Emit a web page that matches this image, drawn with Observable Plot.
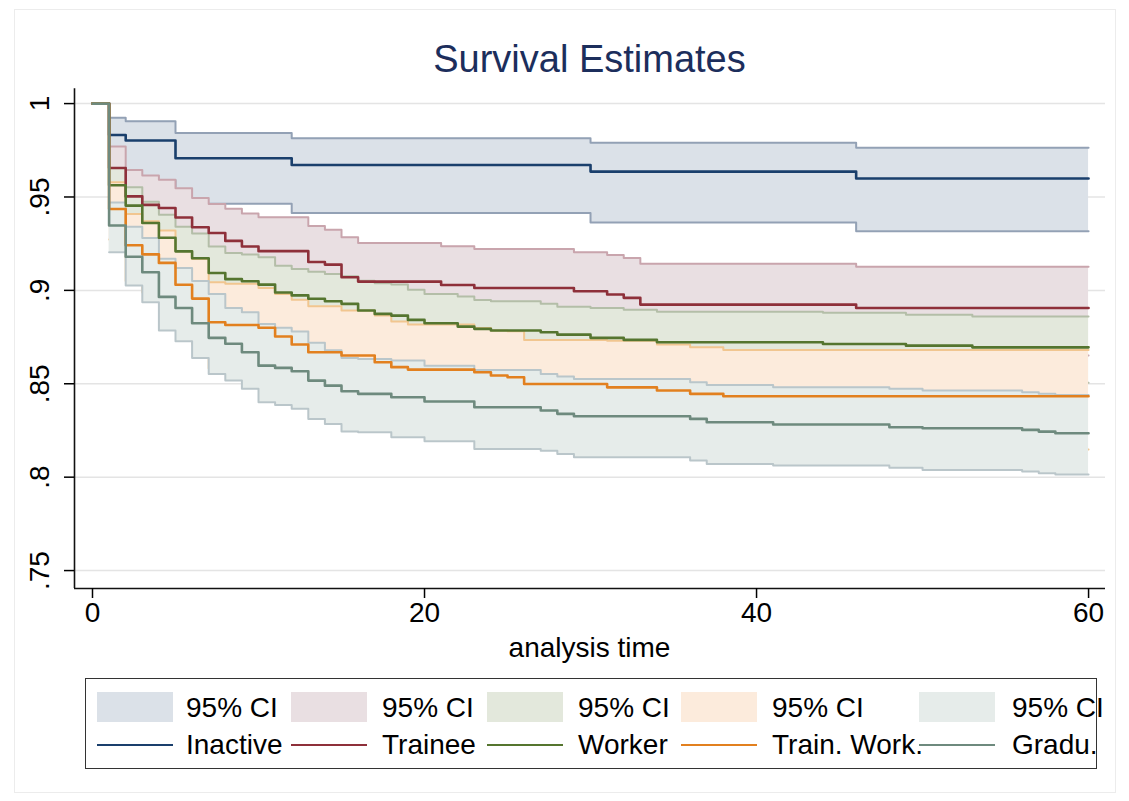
<!DOCTYPE html>
<html>
<head>
<meta charset="utf-8">
<script src="https://cdn.jsdelivr.net/npm/d3@7"></script>
<script src="https://cdn.jsdelivr.net/npm/@observablehq/plot@0.6"></script>
<style>
  body { margin: 0; background: #fff; font-family: "Liberation Sans", Arial, Helvetica, sans-serif; }
  #wrap { position: relative; width: 1129px; height: 801px; overflow: hidden; background: #fff; }
  #outer { position: absolute; left: 14px; top: 9px; width: 1100px; height: 782px; border: 1px solid #ececec; }
  #title { position: absolute; left: 74px; width: 1031px; top: 40px; text-align: center; font-size: 38px; line-height: 1; color: #1c2e5c; }
  #chart { position: absolute; left: 0; top: 80px; }
  #xlabel { position: absolute; left: 74px; width: 1031px; top: 634px; text-align: center; font-size: 28px; line-height: 1; color: #000; }
  #legendbox { position: absolute; left: 85px; top: 678px; width: 1012px; height: 91px; border: 1.5px solid #333; box-sizing: border-box; }
  .sw { position: absolute; height: 30px; width: 76px; }
  .ln { position: absolute; height: 2px; width: 76px; }
  .lt { position: absolute; font-size: 28px; line-height: 1; white-space: nowrap; color: #000; }
</style>
</head>
<body>
<div id="wrap">
  <div id="outer"></div>
  <div id="title">Survival Estimates</div>
  <div id="chart"></div>
  <div id="xlabel">analysis time</div>
</div>
<script>
// ---------------- data ----------------
const groupNames = ["Inactive", "Trainee", "Worker", "Train. Work.", "Gradu."];
const ciLabel = "95% CI";
const titleText = "Survival Estimates";
const xAxisLabel = "analysis time";

const xTicks = [0, 20, 40, 60];
const yTicks = [0.75, 0.8, 0.85, 0.9, 0.95, 1];
const yTickLabels = [".75", ".8", ".85", ".9", ".95", "1"];

// Inactive
const inactiveT  = [0, 1, 2, 5, 12, 30, 46, 60];
const inactiveS  = [1, .9832, .9802, .9707, .9671, .9636, .9599, .9599];
const inactiveLo = [null, .963, .959, .9464, .9414, .9363, .9316, .9316];
const inactiveHi = [null, .9924, .9905, .9842, .9815, .9791, .9764, .9764];

// Trainee
const traineeT  = [0, 1, 2, 3, 4, 5, 6, 7, 8, 9, 10, 13, 14, 15, 16, 21, 23, 29, 31, 32, 33, 46, 60];
const traineeS  = [1, .9655, .9503, .9458, .9441, .9390, .9338, .9307, .9265, .9235, .9210, .9152, .9138, .9070, .9047, .9029, .9013, .8995, .8978, .8960, .8924, .8906, .8906];
const traineeHi = [null, .9770, .9645, .9615, .9592, .9547, .9494, .9463, .9437, .9411, .9392, .9345, .9325, .9285, .9253, .9236, .9222, .9204, .9190, .9174, .9142, .9127, .9127];
const traineeLo = [null, .9523, .9340, .9277, .9267, .9209, .9159, .9128, .9067, .9033, .9001, .8930, .8923, .8823, .8810, .8791, .8773, .8755, .8734, .8714, .8673, .8652, .8652];

// Worker
const workerT  = [0, 1, 2, 3, 4, 5, 6, 7, 8, 9, 10, 11, 12, 13, 14, 15, 16, 17, 18, 19, 20, 22, 23, 24, 27, 28, 30, 32, 34, 44, 49, 53, 60];
const workerS  = [1, .9563, .9454, .9361, .9282, .9209, .9172, .9093, .9060, .9049, .9031, .8989, .8973, .8955, .8942, .8928, .8892, .8874, .8865, .8842, .8824, .8806, .8794, .8785, .8776, .8763, .8746, .8735, .8722, .8713, .8704, .8695, .8695];
const workerHi = [null, .9655, .9552, .9475, .9405, .9340, .9305, .9235, .9200, .9192, .9178, .9132, .9115, .9100, .9088, .9075, .9052, .9038, .9031, .9003, .8981, .8967, .8949, .8942, .8928, .8913, .8906, .8896, .8885, .8880, .8869, .8860, .8860];
const workerLo = [null, .9457, .9341, .9230, .9141, .9058, .9019, .8930, .8899, .8885, .8862, .8825, .8810, .8788, .8774, .8759, .8708, .8685, .8674, .8657, .8643, .8621, .8616, .8604, .8601, .8590, .8562, .8550, .8535, .8521, .8514, .8505, .8505];

// Train. Work.
const trainWorkT  = [0, 1, 2, 3, 4, 5, 6, 7, 8, 10, 11, 12, 13, 15, 17, 18, 19, 23, 24, 25, 26, 31, 34, 36, 38, 60];
const trainWorkS  = [1, .9436, .9242, .9193, .9147, .9030, .8956, .8829, .8815, .8800, .8753, .8710, .8669, .8651, .8615, .8589, .8576, .8562, .8544, .8535, .8499, .8481, .8464, .8446, .8433, .8433];
const trainWorkHi = [null, .9579, .9409, .9370, .9320, .9210, .9168, .9044, .9035, .9013, .8981, .8950, .8915, .8892, .8865, .8833, .8817, .8799, .8785, .8781, .8735, .8731, .8710, .8695, .8681, .8681];
const trainWorkLo = [null, .9272, .9050, .8989, .8948, .8823, .8712, .8582, .8562, .8555, .8491, .8434, .8386, .8374, .8327, .8308, .8299, .8289, .8267, .8252, .8228, .8193, .8181, .8160, .8148, .8148];

// Gradu.
const graduT  = [0, 1, 2, 3, 4, 5, 6, 7, 8, 9, 10, 11, 12, 13, 14, 15, 16, 18, 20, 23, 27, 28, 29, 36, 37, 41, 48, 50, 56, 57, 58, 60];
const graduS  = [1, .9347, .9180, .9097, .8965, .8906, .8824, .8746, .8714, .8669, .8597, .8585, .8567, .8517, .8490, .8460, .8446, .8428, .8405, .8374, .8357, .8339, .8326, .8312, .8294, .8282, .8267, .8262, .8253, .8244, .8235, .8235];
const graduHi = [null, .9470, .9340, .9280, .9170, .9120, .9050, .8980, .8906, .8883, .8820, .8800, .8780, .8720, .8680, .8638, .8633, .8624, .8597, .8574, .8553, .8539, .8526, .8508, .8494, .8481, .8473, .8464, .8455, .8446, .8440, .8440];
const graduLo = [null, .9204, .9026, .8937, .8785, .8728, .8638, .8553, .8517, .8473, .8401, .8387, .8366, .8312, .8285, .8245, .8240, .8214, .8192, .8151, .8142, .8124, .8106, .8089, .8071, .8062, .8050, .8039, .8030, .8021, .8014, .8014];

// ---------------- styling ----------------
const lineColors = ["#1a3f6c", "#8e303a", "#55752f", "#e2801f", "#6e8a7e"];
const fillColors = ["#dbe1e8", "#e9dfe2", "#e3e8dc", "#fcebdc", "#e6ecea"];
const edgeColors = ["#93a1b5", "#c9a5ad", "#b4bea8", "#f1c690", "#bac6ca"];

const series = [
  [inactiveT, inactiveS, inactiveLo, inactiveHi],
  [traineeT, traineeS, traineeLo, traineeHi],
  [workerT, workerS, workerLo, workerHi],
  [trainWorkT, trainWorkS, trainWorkLo, trainWorkHi],
  [graduT, graduS, graduLo, graduHi]
];

const groups = series.map(([t, s, lo, hi], gi) => ({
  name: groupNames[gi],
  rows: t.map((tt, i) => ({t: tt, s: s[i], lo: lo[i], hi: hi[i]})),
  line: lineColors[gi], fill: fillColors[gi], edge: edgeColors[gi]
}));

const W = 1129, H = 600;
const xDom = [-1.084, 61.02];
const yDom = [0.7404, 1.0054];

const marks = [
  Plot.gridY(yTicks, {stroke: "#e4e4e4", strokeOpacity: 1, strokeWidth: 1.5})
];
for (const g of groups) {
  const d = g.rows.filter(r => r.lo != null);
  marks.push(Plot.areaY(d, {x: "t", y1: "lo", y2: "hi", curve: "step-after", fill: g.fill, fillOpacity: 1}));
  marks.push(Plot.line(d, {x: "t", y: "lo", curve: "step-after", stroke: g.edge, strokeWidth: 2}));
  marks.push(Plot.line(d, {x: "t", y: "hi", curve: "step-after", stroke: g.edge, strokeWidth: 2}));
}
for (const g of groups) {
  marks.push(Plot.line(g.rows, {x: "t", y: "s", curve: "step-after", stroke: g.line, strokeWidth: 2.6}));
}
marks.push(Plot.ruleX([xDom[0]], {stroke: "#111", strokeWidth: 1.6, y1: yDom[0], y2: 1.008}));
marks.push(Plot.ruleY([yDom[0]], {stroke: "#111", strokeWidth: 1.6}));
marks.push(Plot.axisX(xTicks, {tickSize: 10, tickPadding: 4, fontSize: 28, label: null, tickFormat: d => String(d), strokeWidth: 1.5}));
marks.push(Plot.axisY(yTicks, {tickSize: 10, tickFormat: () => "", label: null, strokeWidth: 1.5}));
marks.push(Plot.text(yTicks, {y: d => d, frameAnchor: "left", dx: -34, rotate: -90, text: (d, i) => yTickLabels[i], fontSize: 28, textAnchor: "middle", lineAnchor: "middle", fill: "#000"}));

const chart = Plot.plot({
  width: W, height: H,
  marginLeft: 74, marginRight: 24, marginTop: 13, marginBottom: 92,
  x: {domain: xDom},
  y: {domain: yDom, clamp: false},
  style: {fontFamily: '"Liberation Sans", Arial, Helvetica, sans-serif', fontSize: "28px", color: "#000", background: "transparent", overflow: "visible"},
  marks
});
document.getElementById("chart").appendChild(chart);
document.getElementById("title").textContent = titleText;
document.getElementById("xlabel").textContent = xAxisLabel;

// ---------------- legend ----------------
const wrap = document.getElementById("wrap");
const keyLeft = [97, 291, 487, 681, 919];
const labelLeft = [186, 382, 578, 772, 1012];
groups.forEach((g, i) => {
  const sw = document.createElement("div");
  sw.className = "sw"; sw.style.left = keyLeft[i] + "px"; sw.style.top = "692px"; sw.style.background = g.fill;
  wrap.appendChild(sw);
  const t1 = document.createElement("div");
  t1.className = "lt"; t1.style.left = labelLeft[i] + "px"; t1.style.top = "694px"; t1.textContent = ciLabel;
  wrap.appendChild(t1);
  const ln = document.createElement("div");
  ln.className = "ln"; ln.style.left = keyLeft[i] + "px"; ln.style.top = "744px"; ln.style.background = g.line;
  wrap.appendChild(ln);
  const t2 = document.createElement("div");
  t2.className = "lt"; t2.style.left = labelLeft[i] + "px"; t2.style.top = "731px"; t2.textContent = g.name;
  wrap.appendChild(t2);
});
const lb = document.createElement("div");
lb.id = "legendbox";
wrap.appendChild(lb);
</script>
</body>
</html>
